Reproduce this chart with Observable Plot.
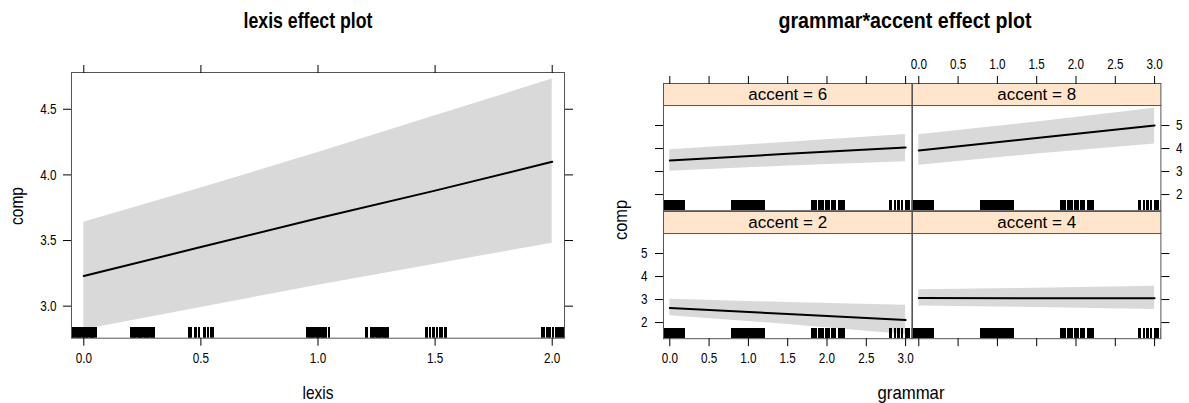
<!DOCTYPE html>
<html><head><meta charset="utf-8">
<script src="https://cdn.jsdelivr.net/npm/d3@7"></script>
<script src="https://cdn.jsdelivr.net/npm/@observablehq/plot@0.6"></script>
<style>
body{margin:0;background:#fff;}
#root{position:relative;width:1189px;height:403px;overflow:hidden;background:#fff;
  font-family:"Liberation Sans",Arial,sans-serif;color:#000;}
.lbl{position:absolute;white-space:nowrap;line-height:1;}
.ttl{font-weight:bold;font-size:22px;}
.axt{font-size:19px;}
</style></head><body><div id="root"></div>
<script>
// ---------------- data ----------------
// lexis effect
const lexisX     = [0, 0.5, 1, 1.5, 2];
const lexisFit   = [3.23, 3.45, 3.67, 3.88, 4.10];
const lexisLower = [2.82, 2.99, 3.16, 3.32, 3.48];
const lexisUpper = [3.64, 3.90, 4.17, 4.45, 4.73];
const lexisTicksX = [0, 0.5, 1, 1.5, 2];
const lexisTicksY = [3, 3.5, 4, 4.5];
const lexisRug = [
  -0.05,-0.045,-0.04,-0.035,-0.03,-0.025,-0.02,-0.015,-0.01,-0.005,0,0.005,0.01,0.015,0.02,0.025,0.03,0.035,0.04,0.045,0.05,
  0.2,0.205,0.21,0.215,0.22,0.225,0.23,0.235,0.24,0.245,0.25,0.255,0.26,0.265,0.27,0.275,0.28,0.285,0.29,0.295,0.3,
  0.449,0.453,0.458,0.475,0.48,0.494,0.513,0.518,0.532,0.545,0.551,
  0.955,0.96,0.965,0.97,0.975,0.98,0.985,0.99,0.995,1.0,1.005,1.01,1.015,1.02,1.025,1.03,1.035,1.049,
  1.205,1.21,1.226,1.231,1.236,1.241,1.246,1.251,1.256,1.261,1.266,1.271,1.276,1.281,1.286,1.291,1.296,1.301,
  1.461,1.466,1.478,1.492,1.497,1.509,1.522,1.531,1.541,1.548,
  1.955,1.966,1.976,1.986,1.991,2.004,2.017,2.026,2.034,2.042,2.05
];

// grammar*accent effect
const accents    = [6, 8, 2, 4];
const grammarX   = [0, 1.5, 3];
const fitAcc6    = [3.48, 3.77, 4.05];
const lowerAcc6  = [3.01, 3.24, 3.43];
const upperAcc6  = [3.95, 4.27, 4.61];
const fitAcc8    = [3.92, 4.46, 5.00];
const lowerAcc8  = [3.27, 3.76, 4.20];
const upperAcc8  = [4.60, 5.15, 5.75];
const fitAcc2    = [2.63, 2.37, 2.11];
const lowerAcc2  = [2.30, 1.92, 1.48];
const upperAcc2  = [3.01, 2.87, 2.75];
const fitAcc4    = [3.07, 3.06, 3.06];
const lowerAcc4  = [2.72, 2.66, 2.57];
const upperAcc4  = [3.43, 3.49, 3.58];
const grammarTicksX = [0, 0.5, 1, 1.5, 2, 2.5, 3];
const compTicksY    = [2, 3, 4, 5];
const grammarRug = [
  -0.1,-0.085,-0.07,-0.055,-0.04,-0.025,-0.01,0.005,0.02,0.035,0.05,0.065,0.08,0.095,0.11,0.125,0.14,0.155,0.17,0.185,
  0.79,0.805,0.82,0.835,0.85,0.865,0.88,0.895,0.91,0.925,0.94,0.955,0.97,0.985,1.0,1.015,1.03,1.045,1.06,1.075,1.09,1.105,1.12,1.135,1.15,1.165,1.18,1.195,
  1.81,1.825,1.84,1.855,1.9,1.915,1.93,1.945,1.99,2.005,2.02,2.06,2.075,2.09,2.105,2.15,2.165,2.18,2.195,2.21,
  2.8,2.815,2.86,2.9,2.915,2.96,3.0,3.015,3.04,3.08,3.12,3.16
];

// ---------------- layout ----------------
const FONT = '"Liberation Sans",Arial,sans-serif';
const TICK_SQUISH = 0.78;
const root = document.getElementById("root");
function put(node, left, top) {
  const d = document.createElement("div");
  d.style.position = "absolute"; d.style.left = left + "px"; d.style.top = top + "px";
  d.appendChild(node); root.appendChild(d);
  // narrow the tick labels (the reference uses a condensed face)
  node.querySelectorAll('g[aria-label$="tick label"] text').forEach(t => {
    const L = t.getComputedTextLength();
    if (L > 0) { t.setAttribute("textLength", (L * TICK_SQUISH).toFixed(2)); t.setAttribute("lengthAdjust", "spacingAndGlyphs"); }
  });
}
function label(text, x, y, cls, targetW, rotate) {
  const d = document.createElement("div");
  d.className = "lbl " + cls; d.textContent = text;
  d.style.left = x + "px"; d.style.top = y + "px";
  root.appendChild(d);
  const k = targetW / d.getBoundingClientRect().width;
  d.style.transform = `translate(-50%,-50%)${rotate ? " rotate(-90deg)" : ""} scaleX(${k.toFixed(3)})`;
}
const fmt1 = d => d.toFixed(1);
const none = () => "";
const baseStyle = {fontFamily: FONT, fontSize: "15px", background: "transparent", color: "#000", maxWidth: "none", overflow: "visible"};

// ---- left: lexis effect plot ----
const lexisData = lexisX.map((x, i) => ({x, fit: lexisFit[i], lo: lexisLower[i], hi: lexisUpper[i]}));
const LM = {l: 71, r: 36, t: 72, b: 65.3};
const LH = 403, LW = 600;
const lexisInner = LH - LM.t - LM.b;
const leftPlot = Plot.plot({
  width: LW, height: LH,
  marginLeft: LM.l, marginRight: LM.r, marginTop: LM.t, marginBottom: LM.b,
  style: baseStyle,
  x: {domain: [-0.0525, 2.0525], label: null},
  y: {domain: [2.756, 4.78], label: null},
  marks: [
    Plot.areaY(lexisData, {x: "x", y1: "lo", y2: "hi", fill: "#d9d9d9"}),
    Plot.lineY(lexisData, {x: "x", y: "fit", stroke: "#000", strokeWidth: 2}),
    Plot.ruleX(lexisRug, {x: d => d, insetTop: lexisInner - 11, stroke: "#000", strokeWidth: 2, shapeRendering: "crispEdges", clip: true}),
    Plot.frame({stroke: "#555"}),
    Plot.axisX({ticks: lexisTicksX, anchor: "bottom", tickSize: 8, tickPadding: 6, tickFormat: fmt1, label: null}),
    Plot.axisX({ticks: lexisTicksX, anchor: "top", tickSize: 8, tickFormat: none, label: null}),
    Plot.axisY({ticks: lexisTicksY, anchor: "left", tickSize: 8, tickPadding: 7, tickFormat: fmt1, label: null}),
    Plot.axisY({ticks: lexisTicksY, anchor: "right", tickSize: 8, tickFormat: none, label: null})
  ]
});
put(leftPlot, 0, 0);
label("lexis effect plot", 308, 21, "ttl", 129);
label("lexis", 318, 392, "axt", 31);
label("comp", 16, 206, "axt", 38, true);

// ---- right: grammar*accent effect plot ----
const colLeft = [663.3, 911.6], colW = 248.4;
const rowTop = [105.3, 232.5], panelH = 105.2, stripH = 22;
const PM = {l: 45, r: 45, t: 60, b: 40};
const panels = [
  {acc: accents[0], fit: fitAcc6, lo: lowerAcc6, hi: upperAcc6, col: 0, row: 0},
  {acc: accents[1], fit: fitAcc8, lo: lowerAcc8, hi: upperAcc8, col: 1, row: 0},
  {acc: accents[2], fit: fitAcc2, lo: lowerAcc2, hi: upperAcc2, col: 0, row: 1},
  {acc: accents[3], fit: fitAcc4, lo: lowerAcc4, hi: upperAcc4, col: 1, row: 1}
];
for (const p of panels) {
  const data = grammarX.map((x, i) => ({x, fit: p.fit[i], lo: p.lo[i], hi: p.hi[i]}));
  const marks = [
    Plot.areaY(data, {x: "x", y1: "lo", y2: "hi", fill: "#d9d9d9"}),
    Plot.lineY(data, {x: "x", y: "fit", stroke: "#000", strokeWidth: 2}),
    Plot.ruleX(grammarRug, {x: d => d, insetTop: panelH - 10.5, stroke: "#000", strokeWidth: 2, shapeRendering: "crispEdges", clip: true}),
    Plot.frame({stroke: "#555"}),
    Plot.frame({fill: "#ffe5cc", stroke: "#555", insetTop: -stripH, insetBottom: panelH}),
    Plot.text([`accent = ${p.acc}`], {frameAnchor: "top", lineAnchor: "middle", dy: -stripH / 2, fontSize: 17, fill: "#000"})
  ];
  if (p.row === 0) {
    marks.push(Plot.axisX({ticks: grammarTicksX, anchor: "top", dy: -stripH, tickSize: 8, tickPadding: 6,
      tickFormat: p.col === 1 ? fmt1 : none, label: null}));
  } else {
    marks.push(Plot.axisX({ticks: grammarTicksX, anchor: "bottom", tickSize: 8, tickPadding: 6,
      tickFormat: p.col === 0 ? fmt1 : none, label: null}));
  }
  if (p.col === 0) {
    marks.push(Plot.axisY({ticks: compTicksY, anchor: "left", tickSize: 8, tickPadding: 8,
      tickFormat: p.row === 1 ? String : none, label: null}));
  } else {
    marks.push(Plot.axisY({ticks: compTicksY, anchor: "right", tickSize: 8, tickPadding: 7,
      tickFormat: p.row === 0 ? String : none, label: null}));
  }
  const pl = Plot.plot({
    width: colW + PM.l + PM.r, height: panelH + PM.t + PM.b,
    marginLeft: PM.l, marginRight: PM.r, marginTop: PM.t, marginBottom: PM.b,
    style: baseStyle,
    x: {domain: [-0.08, 3.08], label: null},
    y: {domain: [1.3, 5.87], label: null},
    marks
  });
  put(pl, colLeft[p.col] - PM.l, rowTop[p.row] - PM.t);
}
label("grammar*accent effect plot", 905, 21, "ttl", 253);
label("grammar", 911, 392, "axt", 67);
label("comp", 620, 220, "axt", 40, true);
</script></body></html>
